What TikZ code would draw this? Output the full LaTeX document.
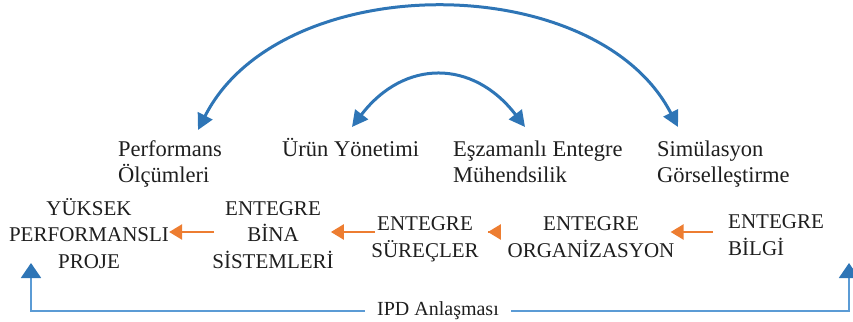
\documentclass[tikz,border=0pt]{standalone}
\usepackage{fontspec}
\setmainfont{Liberation Serif}
\usetikzlibrary{arrows.meta}
\definecolor{arcblue}{RGB}{46,117,182}
\definecolor{lineblue}{RGB}{91,155,213}
\definecolor{flow}{RGB}{237,125,49}
\definecolor{ink}{RGB}{30,30,30}
\begin{document}
\begin{tikzpicture}[x=1pt,y=-1pt,
  toplabel/.style={inner sep=0pt, anchor=base west, align=left, text=ink,
    font=\fontsize{22.5}{26}\selectfont},
  stage/.style={inner sep=0pt, anchor=base, align=center, text=ink,
    font=\fontsize{21}{26.5}\selectfont},
  arcarrow/.style={draw=arcblue, line width=3pt,
    {Triangle[length=16pt,width=16pt]}-{Triangle[length=16pt,width=16pt]}},
  flowarrow/.style={draw=flow, line width=2.5pt,
    -{Triangle[length=13pt,width=15pt]}},
  bottomline/.style={draw=lineblue, line width=2pt,
    -{Triangle[length=15pt,width=20pt,color=arcblue]}}]
\useasboundingbox (0,0) rectangle (853,321);

% upper row of practices (anchored on the baseline of the last line)
\node[toplabel] (perf)  at (118,182) {Performans\\Ölçümleri};
\node[toplabel] (urun)  at (282,156) {Ürün Yönetimi};
\node[toplabel] (eszam) at (453,182) {Eşzamanlı Entegre\\Mühendsilik};
\node[toplabel] (simul) at (657,182) {Simülasyon\\Görselleştirme};

% arc end points above the labels
\coordinate (perfT)  at (198,130);
\coordinate (simulT) at (678,127);
\coordinate (urunT)  at (352,127);
\coordinate (eszamT) at (525,127);

\draw[arcarrow] (perfT) .. controls (280,-32) and (596,-32) .. (simulT);
\draw[arcarrow] (urunT) .. controls (404,59) and (473,59) .. (eszamT);

% integration chain
\node[stage] (yuksek) at (89,268)  {YÜKSEK\\PERFORMANSLI\\PROJE};
\node[stage] (bina)   at (273,268) {ENTEGRE\\BİNA\\SİSTEMLERİ};
\node[stage] (surec)  at (425,257) {ENTEGRE\\SÜREÇLER};
\node[stage] (org)    at (591,257) {ENTEGRE\\ORGANİZASYON};
\node[stage, anchor=base west, align=left] (bilgi) at (728,255) {ENTEGRE\\BİLGİ};

\coordinate (row) at (0,232);
\draw[flowarrow, shorten <=-2pt] (bina.west |- row) -- (yuksek.east |- row);
\draw[flowarrow, shorten <=-4pt, shorten >=-3pt] (surec.west |- row) -- (bina.east |- row);
\draw[flowarrow, shorten <=19pt, shorten >=9pt] (org.west |- row) -- (surec.east |- row);
\draw[flowarrow, shorten <=15pt, shorten >=-4pt] (bilgi.west |- row) -- (org.east |- row);

% agreement frame
\node[inner xsep=12pt, inner ysep=0pt, text=ink, font=\fontsize{20}{24}\selectfont]
  (ipd) at (438,311) {IPD Anlaşması};
\coordinate (leftT)  at (31,263);
\coordinate (rightT) at (849,263);
\draw[bottomline] (ipd.west) -| (leftT);
\draw[bottomline] (ipd.east) -| (rightT);
\end{tikzpicture}
\end{document}
